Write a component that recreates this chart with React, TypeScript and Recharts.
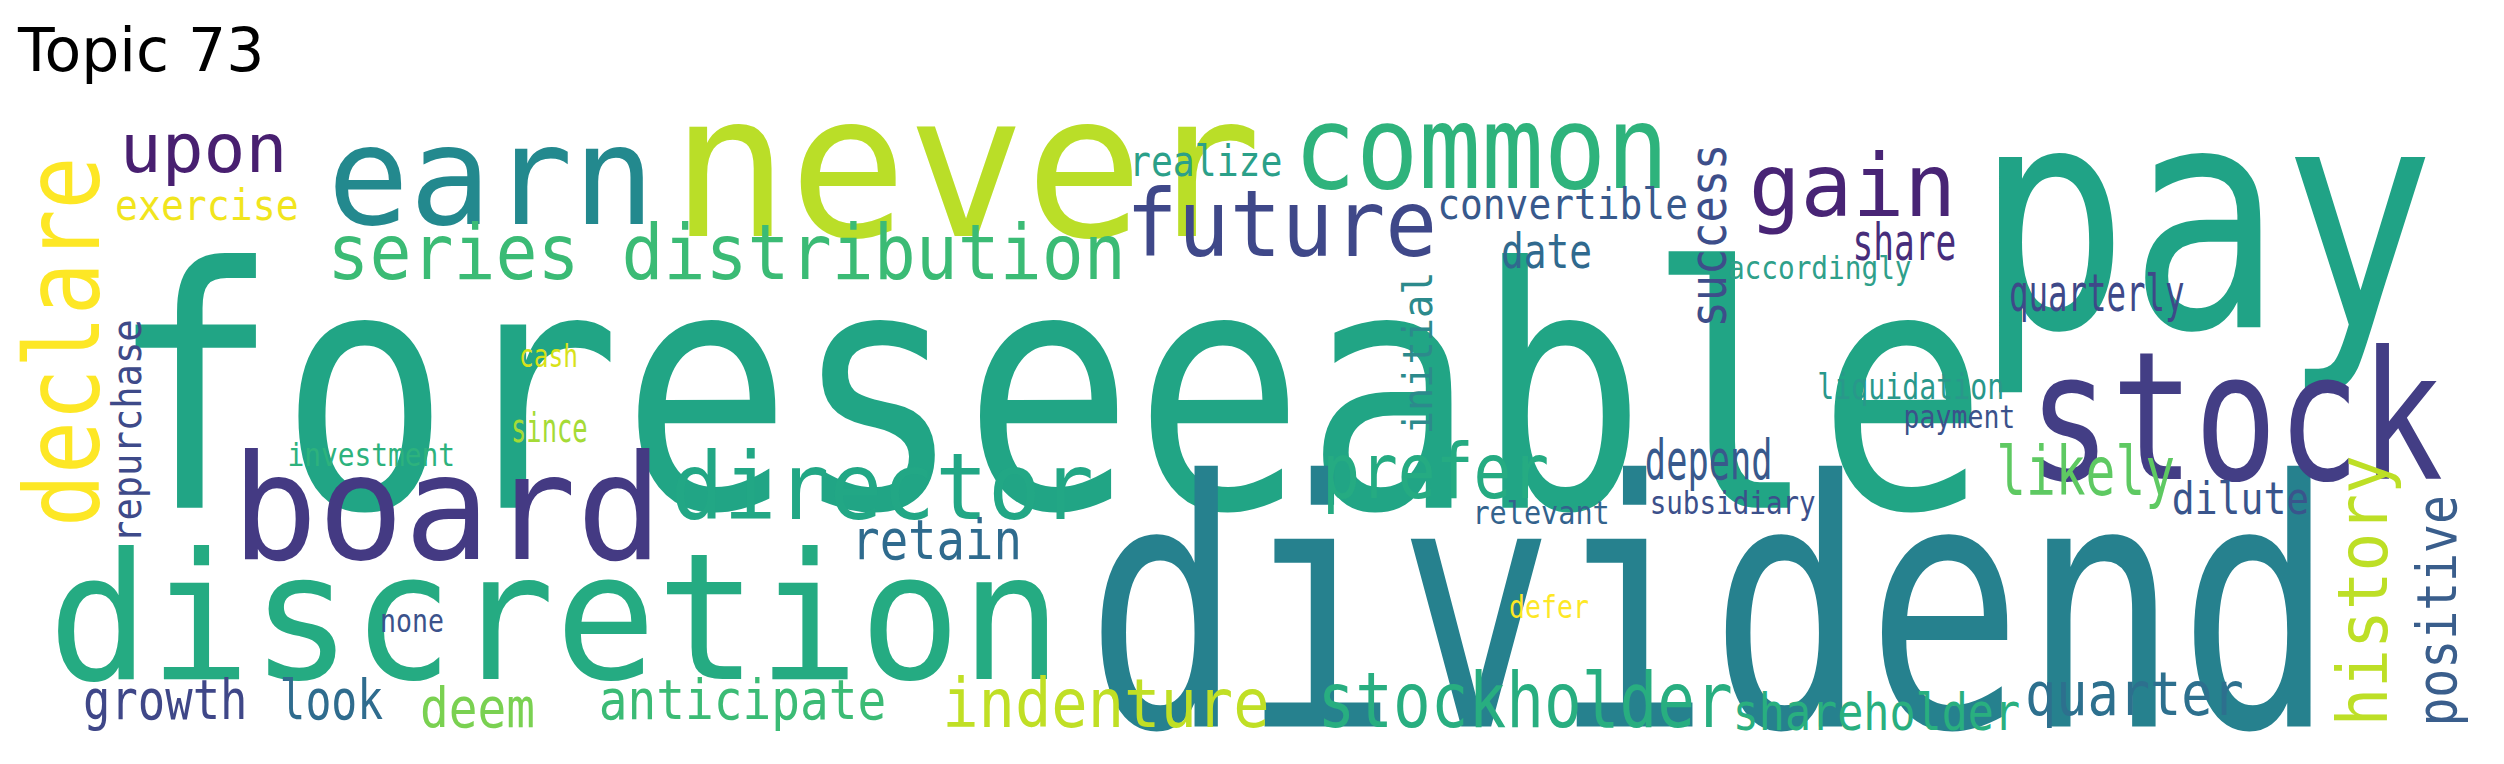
import { ScatterChart, Scatter, XAxis, YAxis } from 'recharts';

// word cloud for topic 73: anchor = left/baseline (horizontal) or baseline/bottom (vertical)
// values were read on a 1568-wide copy of the picture, so the axes use that unit
const UNIT_W = 1568;
const UNIT_H = (764 * 1568) / 2504;
const K = 2504 / 1568;

const WORDS = [
  'foreseeable', 'dividend', 'pay', 'never', 'earn', 'common', 'board', 'discretion', 'stock', 'future',
  'gain', 'upon', 'series distribution', 'director', 'prefer', 'likely', 'depend', 'quarterly', 'share', 'convertible',
  'date', 'realize', 'exercise', 'accordingly', 'liquidation', 'payment', 'subsidiary', 'relevant', 'dilute', 'retain',
  'investment', 'since', 'cash', 'none', 'defer', 'growth', 'look', 'deem', 'anticipate', 'indenture',
  'stockholder', 'shareholder', 'quarter',
  'declare', 'repurchase', 'initial', 'success', 'history', 'positive',
];
const ANCHOR_X = [
  68, 680, 1237, 420, 205, 810, 145, 30, 1270, 705,
  1095, 75, 205, 420, 828, 1250, 1030, 1258, 1160, 900,
  940, 707, 72, 1082, 1138, 1192, 1033, 922, 1360, 533,
  180, 320, 325, 238, 945, 52, 175, 263, 375, 590,
  825, 1085, 1268,
  62, 88, 897, 1081, 1495, 1538,
];
const ANCHOR_Y = [
  318, 455, 205, 148, 140, 118, 350, 425, 300, 160,
  135, 108, 175, 325, 312, 310, 300, 195, 163, 137,
  168, 110, 138, 175, 250, 268, 322, 328, 322, 350,
  292, 277, 230, 396, 387, 450, 450, 455, 450, 455,
  455, 457, 448,
  330, 340, 272, 205, 455, 455,
];
const SPANS = [
  1177, 782, 288, 370, 205, 235, 270, 635, 260, 195,
  130, 105, 500, 265, 142, 112, 80, 110, 65, 157,
  57, 96, 115, 115, 117, 70, 104, 86, 86, 107,
  105, 48, 37, 40, 50, 103, 65, 72, 180, 205,
  260, 180, 137,
  232, 140, 102, 115, 170, 145,
];
const SIZES = [
  210, 215, 195, 125, 86, 73, 92, 110, 112, 58,
  55, 42, 48, 58, 48, 42, 34, 32, 32, 27,
  30, 27, 27, 20, 22, 20, 20, 20, 28, 34,
  20, 26, 20, 20, 20, 34, 34, 34, 34, 42,
  48, 32, 38,
  65, 26, 26, 32, 44, 34,
];
const COLORS = [
  '#21a585', '#26818e', '#20a386', '#bade28', '#23898e', '#2eb37c', '#443a83', '#25ab82', '#433e85', '#3f4889',
  '#482475', '#481f70', '#3bbb75', '#22a785', '#25ab82', '#5ec962', '#38598c', '#3e4989', '#472d7b', '#38598c',
  '#306a8e', '#2ba089', '#f1e51d', '#2fa08a', '#29988b', '#3b528b', '#3c508b', '#33638d', '#39558c', '#2f6b8e',
  '#2db27d', '#a5db36', '#d8e219', '#3b528b', '#fde725', '#3f4788', '#2f6c8e', '#7ad151', '#3bbb75', '#c0df25',
  '#28ae80', '#29af7f', '#2d708e',
  '#fde725', '#3e4a89', '#2c8a8c', '#3d4e8a', '#bddf26', '#3a5e8c',
];
const VERTICAL_FROM = 43;

const data = WORDS.map((word, i) => ({
  word,
  x: ANCHOR_X[i],
  y: ANCHOR_Y[i],
  span: SPANS[i],
  size: SIZES[i],
  color: COLORS[i],
  vertical: i >= VERTICAL_FROM,
}));

const WordShape = (props: any) => {
  const { cx, cy, payload } = props;
  return (
    <text
      x={cx}
      y={cy}
      fill={payload.color}
      fontSize={payload.size * K}
      fontFamily="'DejaVu Sans Mono', monospace"
      textLength={payload.span * K}
      lengthAdjust="spacingAndGlyphs"
      textAnchor="start"
      transform={payload.vertical ? `rotate(-90, ${cx}, ${cy})` : undefined}
    >
      {payload.word}
    </text>
  );
};

export default function App() {
  return (
    <div style={{ position: 'absolute', top: 0, left: 0, width: 2504, height: 764, background: '#fff' }}>
      <div
        style={{
          position: 'absolute',
          left: 18,
          top: 14,
          fontFamily: "'DejaVu Sans', sans-serif",
          fontSize: 60,
          lineHeight: '72px',
          color: '#000',
        }}
      >
        Topic 73
      </div>
      <ScatterChart width={2504} height={764} margin={{ top: 0, right: 0, bottom: 0, left: 0 }}>
        <XAxis type="number" dataKey="x" domain={[0, UNIT_W]} hide />
        <YAxis type="number" dataKey="y" domain={[0, UNIT_H]} reversed hide />
        <Scatter data={data} shape={WordShape} isAnimationActive={false} />
      </ScatterChart>
    </div>
  );
}
